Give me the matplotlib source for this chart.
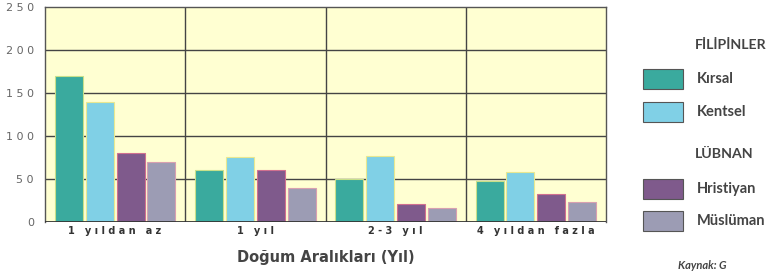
import numpy as np
import matplotlib.pyplot as plt
from matplotlib.patches import Rectangle

# doğum aralıkları grupları
groups = ["1 yıldan az", "1 yıl", "2-3 yıl", "4 yıldan fazla"]
series = ["Kırsal", "Kentsel", "Hristiyan", "Müslüman"]
kirsal = [170, 60, 50, 48]
kentsel = [140, 76, 77, 58]
hristiyan = [80, 60, 21, 33]
musluman = [70, 40, 16, 23]
yticks = [0, 50, 100, 150, 200, 250]

colors = ["#3aaa9e", "#80d0e6", "#7f5a8c", "#9c9cb4"]
edges = ["#c8e08a", "#e8e890", "#d07090", "#d8a0b0"]
bg = "#ffffd2"
txt = "#666666"


def spaced(s):
    return " ".join(s)


fig = plt.figure(figsize=(7.67, 2.72), dpi=100)
W, H = 767, 272
ax = fig.add_axes([45 / W, (H - 222) / H, 561 / W, 215 / H])
ax.set_facecolor(bg)

x = np.arange(len(groups))
bw = 0.2
step = 0.22
data = [kirsal, kentsel, hristiyan, musluman]
for k, vals in enumerate(data):
    off = (k - 1.5) * step
    ax.bar(x + off, vals, bw, color=colors[k], edgecolor=edges[k],
           linewidth=0.8, zorder=3)

ax.set_xlim(-0.5, len(groups) - 0.5)
ax.set_ylim(0, 250)
for yv in yticks[1:-1]:
    ax.axhline(yv, color="#444444", lw=1.0, zorder=1)
for xv in x[:-1] + 0.5:
    ax.axvline(xv, color="#444444", lw=1.0, zorder=1)
ax.axhline(0, color="#333333", lw=2.0, zorder=4)

for s in ax.spines.values():
    s.set_color("#555555")
    s.set_linewidth(1.0)
ax.spines["bottom"].set_visible(False)

ax.set_yticks(yticks)
ax.set_yticklabels([spaced(str(v)) for v in yticks], color=txt, fontsize=8)
ax.set_xticks(x)
ax.set_xticklabels([spaced(g) for g in groups], color="#333333",
                   fontsize=7, fontweight="bold")
ax.tick_params(axis="y", length=0, pad=8)
ax.tick_params(axis="x", length=0, pad=3)
ax.set_xlabel("Doğum Aralıkları (Yıl)", color="#444444", fontsize=10.5,
              fontweight="bold", labelpad=10)

# sağdaki açıklama kutusu
def fx(px):
    return px / W


def fy(py):
    return 1 - py / H


fig.text(fx(695), fy(45), "FİLİPİNLER", color="#444444", fontsize=10.2,
         fontweight="bold", family="Lato", va="center")
fig.text(fx(695), fy(154), "LÜBNAN", color="#444444", fontsize=10.2,
         fontweight="bold", family="Lato", va="center")
legend_y = [79, 112, 189, 221]
for k, name in enumerate(series):
    yc = legend_y[k]
    fig.patches.append(Rectangle((fx(643), fy(yc + 10)), fx(40), 20 / H,
                                 transform=fig.transFigure,
                                 facecolor=colors[k], edgecolor="#555555",
                                 linewidth=0.8))
    fig.text(fx(697), fy(yc), name, color="#444444", fontsize=10.5,
             fontweight="bold", family="Lato", va="center")

fig.text(fx(678), fy(271), "Kaynak: G", color="#444444", fontsize=8,
         fontweight="bold", style="italic", family="Lato", va="bottom")

fig.savefig("out.png", dpi=100)
